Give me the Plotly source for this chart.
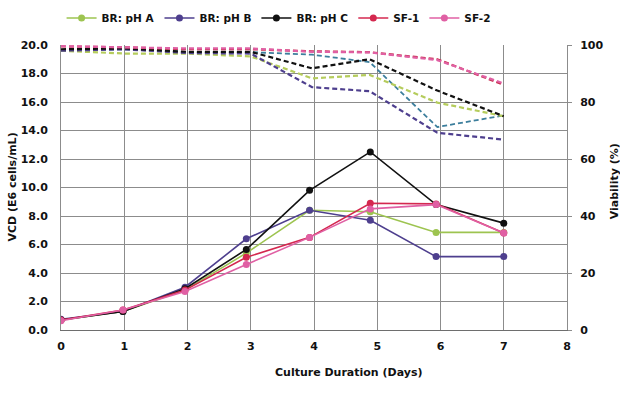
import plotly.graph_objects as go

# ---- data ----
days_vcd = [0, 0.98, 1.96, 2.93, 3.93, 4.89, 5.93, 7.0]
days_via = [0, 1, 2, 3, 3.97, 4.88, 5.95, 7.0]

series_names = ["BR: pH A", "BR: pH B", "BR: pH C", "SF-1", "SF-2"]

vcd_ph_a = [0.7, 1.3, 2.8, 5.4, 8.4, 8.3, 6.85, 6.85]
vcd_ph_b = [0.75, 1.3, 3.0, 6.4, 8.4, 7.7, 5.15, 5.15]
vcd_ph_c = [0.7, 1.3, 2.9, 5.65, 9.8, 12.5, 8.8, 7.5]
vcd_sf1 = [0.7, 1.4, 2.8, 5.1, 6.5, 8.9, 8.85, 6.8]
vcd_sf2 = [0.65, 1.4, 2.7, 4.6, 6.5, 8.5, 8.8, 6.8]

via_ph_a = [98.0, 97.0, 97.0, 96.0, 88.3, 89.5, 79.8, 75.0]
via_ph_b = [98.0, 98.5, 97.2, 97.0, 85.2, 83.8, 69.2, 66.8]
via_ph_c = [98.5, 98.8, 97.6, 97.6, 91.8, 95.0, 84.0, 75.0]
via_sf1 = [99.5, 99.2, 98.5, 98.5, 97.8, 97.5, 95.0, 86.0]
via_sf2 = [99.6, 99.3, 98.8, 98.8, 97.6, 97.4, 94.7, 86.5]
via_extra = [98.0, 98.5, 97.6, 97.5, 96.6, 94.0, 71.2, 75.3]

vcd_ticks = [0, 2, 4, 6, 8, 10, 12, 14, 16, 18, 20]
via_ticks = [0, 20, 40, 60, 80, 100]
day_ticks = [0, 1, 2, 3, 4, 5, 6, 7, 8]

colors = ["#9DC450", "#4E3F8E", "#111111", "#D4284F", "#E060A4"]
dash_colors = ["#B5CC5C", "#4E3F8E", "#111111", "#C8304F", "#E060A4"]
extra_color = "#3C7E9C"

FONT = dict(family="DejaVu Sans", size=11, color="#111111", weight="bold")

fig = go.Figure()

# viability dashed lines (secondary axis)
via_sets = [via_ph_a, via_ph_b, via_ph_c, via_sf1, via_sf2]
fig.add_trace(go.Scatter(x=days_via, y=via_extra, yaxis="y2", mode="lines",
                         line=dict(color=extra_color, width=1.8, dash="5px,3px"),
                         showlegend=False, hoverinfo="skip"))
for name, vals, c in zip(series_names, via_sets, dash_colors):
    fig.add_trace(go.Scatter(x=days_via, y=vals, yaxis="y2", mode="lines",
                             line=dict(color=c, width=2.2, dash="5px,3px"),
                             showlegend=False, name=name + " viability"))

# VCD solid lines
vcd_sets = [vcd_ph_a, vcd_ph_b, vcd_ph_c, vcd_sf1, vcd_sf2]
for name, vals, c in zip(series_names, vcd_sets, colors):
    fig.add_trace(go.Scatter(x=days_vcd, y=vals, mode="lines+markers", name=name,
                             line=dict(color=c, width=1.6),
                             marker=dict(color=c, size=7)))

fig.update_layout(
    width=620, height=397,
    margin=dict(l=61, r=53, t=45, b=67, autoexpand=False),
    paper_bgcolor="white", plot_bgcolor="white",
    font=FONT,
    showlegend=True,
    legend=dict(orientation="h", x=0.43, xanchor="center", y=1.095, yanchor="middle",
                font=dict(family="DejaVu Sans", size=10.5, color="#111111", weight="bold"),
                itemwidth=30, bgcolor="rgba(0,0,0,0)", tracegroupgap=0),
    xaxis=dict(range=[0, 8], tickvals=day_ticks, showgrid=True, gridcolor="#8C8C8C",
               gridwidth=1, showline=True, linecolor="#6E6E6E", linewidth=1,
               zeroline=False, ticks="", ticklabelstandoff=6),
    yaxis=dict(range=[0, 20], tickvals=vcd_ticks, tickformat=".1f", showgrid=True,
               gridcolor="#8C8C8C", gridwidth=1, showline=True, linecolor="#8C8C8C",
               zeroline=False, ticks="", ticklabelstandoff=10),
    yaxis2=dict(range=[0, 100], tickvals=via_ticks, overlaying="y", side="right",
                showgrid=False, showline=True, linecolor="#8C8C8C", zeroline=False,
                ticks="outside", ticklen=4, tickcolor="#8C8C8C", ticklabelstandoff=6),
    annotations=[
        dict(text="Culture Duration (Days)", xref="paper", yref="paper", x=0.57, y=0,
             yshift=-42, showarrow=False, xanchor="center", yanchor="middle",
             font=FONT),
        dict(text="VCD (E6 cells/mL)", xref="paper", yref="paper", x=0, xshift=-49,
             y=0.5, showarrow=False, textangle=-90, xanchor="center", yanchor="middle",
             font=FONT),
        dict(text="Viability (%)", xref="paper", yref="paper", x=1.0, xshift=39,
             y=0.52, showarrow=False, textangle=-90, xanchor="left", yanchor="middle",
             font=FONT),
    ],
)

fig.write_html("out.html", config={"displayModeBar": False},
               post_script="document.body.style.margin='0';document.body.style.padding='0';")
